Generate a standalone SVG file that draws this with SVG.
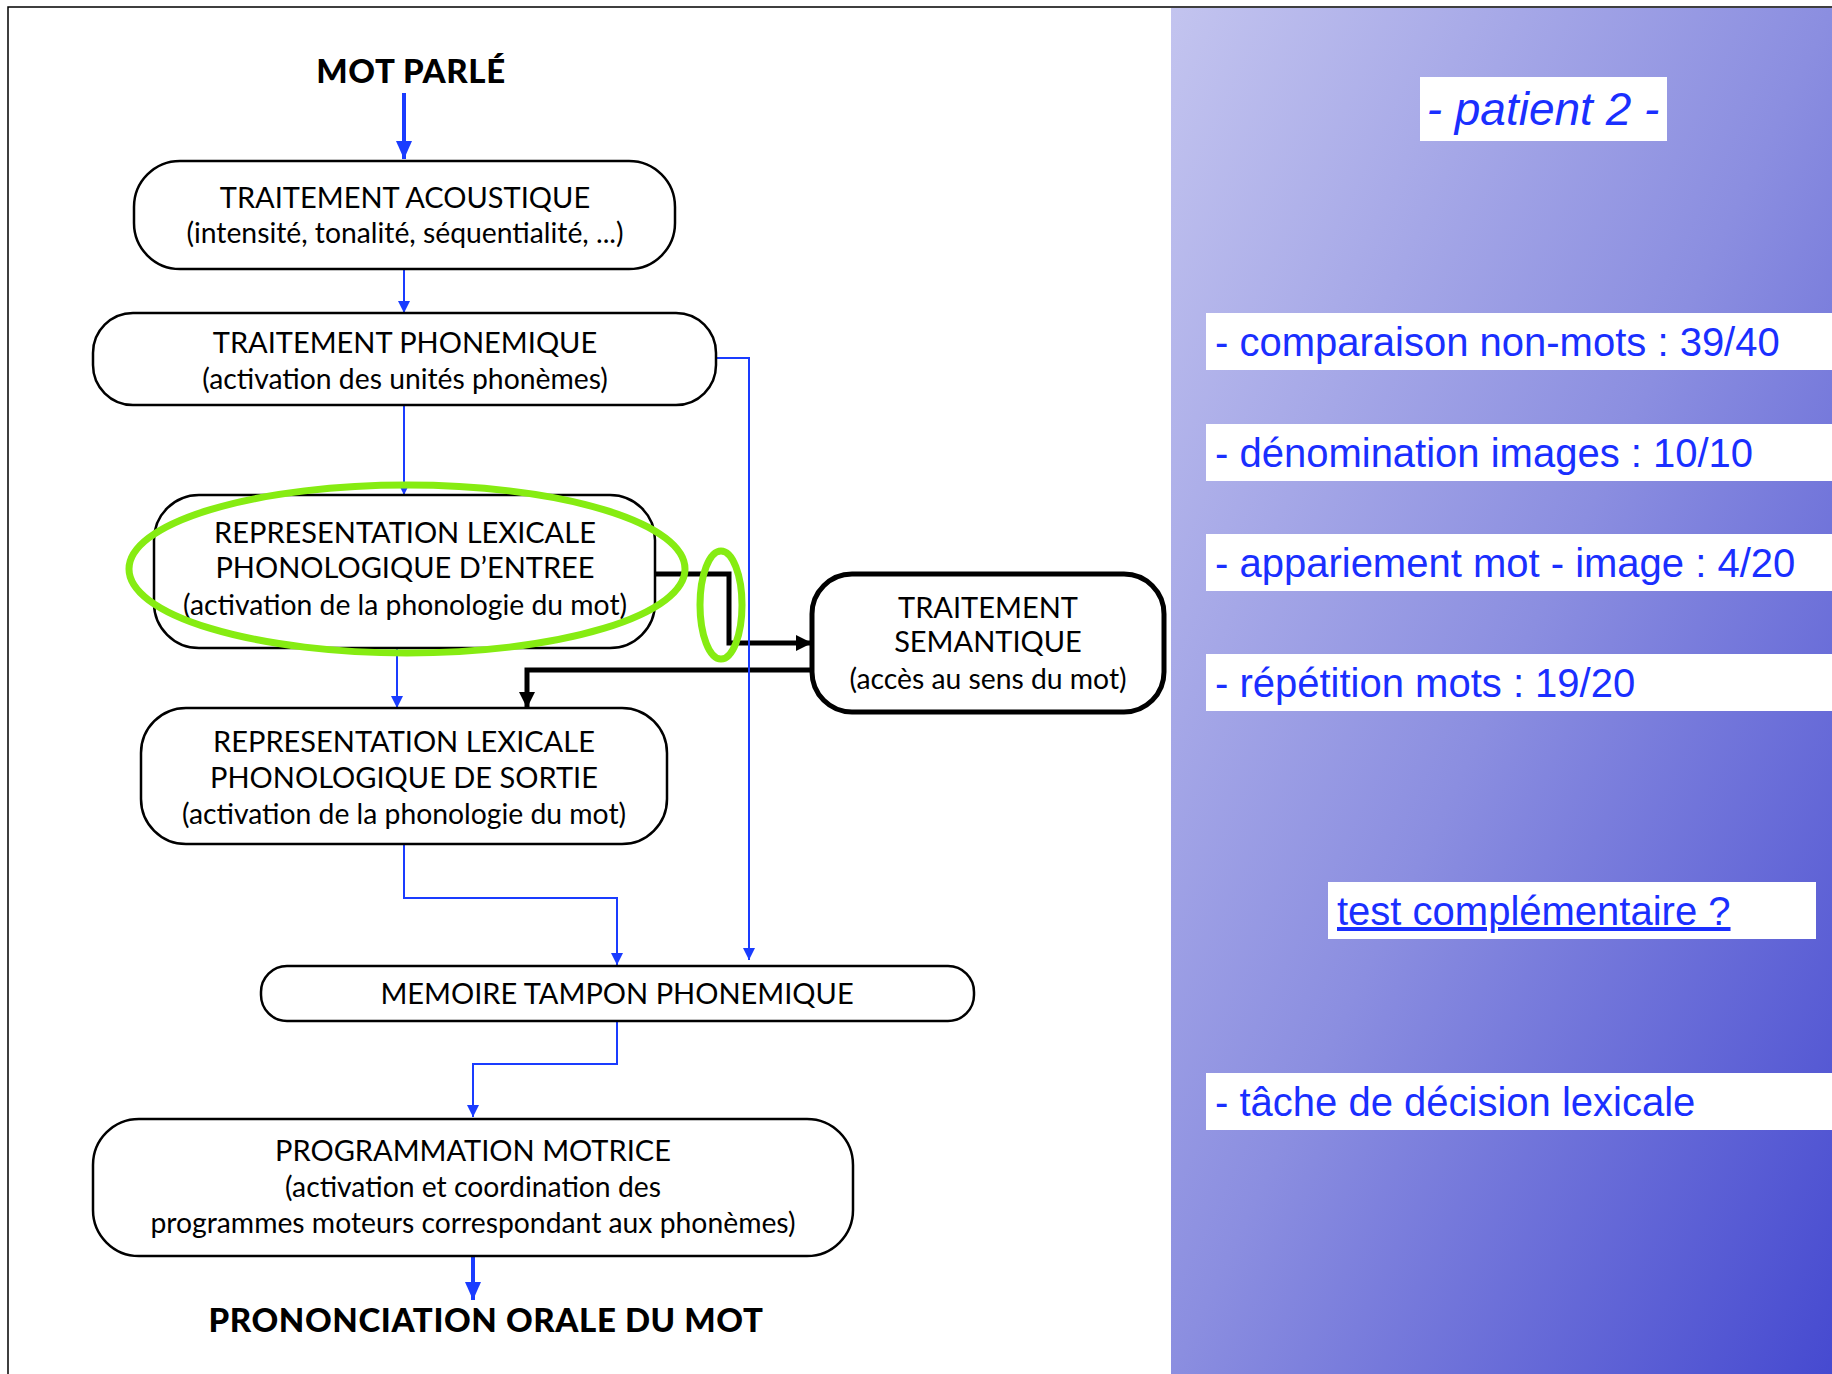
<svg xmlns="http://www.w3.org/2000/svg" width="1832" height="1374" viewBox="0 0 1832 1374">
<defs>
<linearGradient id="bg" x1="0" y1="0" x2="1" y2="1">
<stop offset="0" stop-color="#c3c4ef"/>
<stop offset="0.5" stop-color="#8b8ee0"/>
<stop offset="1" stop-color="#464ad0"/>
</linearGradient>
<marker id="ab" markerUnits="userSpaceOnUse" markerWidth="12" markerHeight="14" refX="12" refY="7" orient="auto"><path d="M0,1 L12,7 L0,13 Z" fill="#1a3cff"/></marker>
<marker id="abT" markerUnits="userSpaceOnUse" markerWidth="18" markerHeight="16" refX="18" refY="8" orient="auto"><path d="M0,0 L18,8 L0,16 Z" fill="#1a3cff"/></marker>
<marker id="ak" markerUnits="userSpaceOnUse" markerWidth="16" markerHeight="16" refX="16" refY="8" orient="auto"><path d="M0,0 L16,8 L0,16 Z" fill="#000"/></marker>
</defs>
<style>
.box{fill:#fff;stroke:#000;stroke-width:2.5}
.boxT{fill:#fff;stroke:#000;stroke-width:5}
.t{font-family:Lato,"Liberation Sans",sans-serif;font-size:29px;fill:#000;text-anchor:middle}
.s{font-size:28.3px}
.h{font-family:Lato,"Liberation Sans",sans-serif;font-size:33px;letter-spacing:0.6px;font-weight:900;fill:#000;text-anchor:middle}
.bl{fill:none;stroke:#1a3cff;stroke-width:2}
.blT{fill:none;stroke:#1a3cff;stroke-width:4}
.bk{fill:none;stroke:#000;stroke-width:5}
.gr{fill:none;stroke:#86ec12;stroke-width:7}
.wb{fill:#fff}
.r{font-family:"Liberation Sans",Arial,sans-serif;font-size:40px;fill:#1a2fff}
.pt{font-size:46px;font-style:italic;text-anchor:middle}
.u{text-decoration:underline}
</style>
<rect x="0" y="0" width="1832" height="1374" fill="#fff"/>
<rect x="1171" y="8" width="661" height="1366" fill="url(#bg)"/>
<path d="M8,1374 V7 H1832" fill="none" stroke="#000" stroke-width="1.5"/>

<g id="mot-parle"><text class="h" x="411" y="83">MOT PARLÉ</text></g>
<g id="prononciation"><text class="h" x="486" y="1332">PRONONCIATION ORALE DU MOT</text></g>

<g id="connectors">
<path class="blT" d="M404,93 V159" marker-end="url(#abT)"/>
<path class="bl" d="M404,269 V313" marker-end="url(#ab)"/>
<path class="bl" d="M404,405 V495" marker-end="url(#ab)"/>
<path class="bl" d="M397,648 V708" marker-end="url(#ab)"/>
<path class="bl" d="M404,844 V898 H617 V965" marker-end="url(#ab)"/>
<path class="bl" d="M617,1021 V1064 H473 V1117" marker-end="url(#ab)"/>
<path class="blT" d="M473,1256 V1300" marker-end="url(#abT)"/>
<path class="bk" d="M655,574 H729 V643 H812" marker-end="url(#ak)"/>
<path class="bk" d="M812,670 H527 V708" marker-end="url(#ak)"/>
<path class="bl" d="M716,358 H749 V960" marker-end="url(#ab)"/>
</g>

<g id="traitement-acoustique">
<rect class="box" x="134" y="161" width="541" height="108" rx="46"/>
<text class="t" x="405" y="208">TRAITEMENT ACOUSTIQUE</text>
<text class="t s" x="405" y="243">(intensité, tonalité, séquentialité, ...)</text>
</g>
<g id="traitement-phonemique">
<rect class="box" x="93" y="313" width="623" height="92" rx="40"/>
<text class="t" x="405" y="353">TRAITEMENT PHONEMIQUE</text>
<text class="t s" x="405" y="389">(activation des unités phonèmes)</text>
</g>
<g id="rep-entree">
<rect class="box" x="154" y="495" width="501" height="153" rx="45"/>
<text class="t" x="405" y="543">REPRESENTATION LEXICALE</text>
<text class="t" x="405" y="578">PHONOLOGIQUE D’ENTREE</text>
<text class="t s" x="405" y="615">(activation de la phonologie du mot)</text>
</g>
<g id="traitement-semantique">
<rect class="boxT" x="812" y="574" width="352" height="138" rx="40"/>
<text class="t" x="988" y="618">TRAITEMENT</text>
<text class="t" x="988" y="652">SEMANTIQUE</text>
<text class="t s" x="988" y="689">(accès au sens du mot)</text>
</g>
<g id="rep-sortie">
<rect class="box" x="141" y="708" width="526" height="136" rx="45"/>
<text class="t" x="404" y="752">REPRESENTATION LEXICALE</text>
<text class="t" x="404" y="788">PHONOLOGIQUE DE SORTIE</text>
<text class="t s" x="404" y="824">(activation de la phonologie du mot)</text>
</g>
<g id="memoire-tampon">
<rect class="box" x="261" y="966" width="713" height="55" rx="26"/>
<text class="t" x="617" y="1004">MEMOIRE TAMPON PHONEMIQUE</text>
</g>
<g id="programmation-motrice">
<rect class="box" x="93" y="1119" width="760" height="137" rx="46"/>
<text class="t" x="473" y="1161">PROGRAMMATION MOTRICE</text>
<text class="t s" x="473" y="1197">(activation et coordination des</text>
<text class="t s" x="473" y="1233">programmes moteurs correspondant aux phonèmes)</text>
</g>

<g id="highlights">
<ellipse class="gr" cx="407" cy="569" rx="278" ry="84"/>
<ellipse class="gr" cx="721" cy="605" rx="21" ry="54"/>
</g>

<g id="patient">
<rect class="wb" x="1420" y="77" width="247" height="64"/>
<text class="r pt" x="1543" y="125">- patient 2 -</text>
</g>
<g id="test1"><rect class="wb" x="1206" y="313" width="626" height="57"/><text class="r" x="1215" y="356">- comparaison non-mots : 39/40</text></g>
<g id="test2"><rect class="wb" x="1206" y="424" width="626" height="57"/><text class="r" x="1215" y="467">- dénomination images : 10/10</text></g>
<g id="test3"><rect class="wb" x="1206" y="534" width="626" height="57"/><text class="r" x="1215" y="577">- appariement mot - image : 4/20</text></g>
<g id="test4"><rect class="wb" x="1206" y="654" width="626" height="57"/><text class="r" x="1215" y="697">- répétition mots : 19/20</text></g>
<g id="test-comp"><rect class="wb" x="1328" y="882" width="488" height="57"/><text class="r u" x="1337" y="925">test complémentaire ?</text></g>
<g id="test5"><rect class="wb" x="1206" y="1073" width="626" height="57"/><text class="r" x="1215" y="1116">- tâche de décision lexicale</text></g>
</svg>
